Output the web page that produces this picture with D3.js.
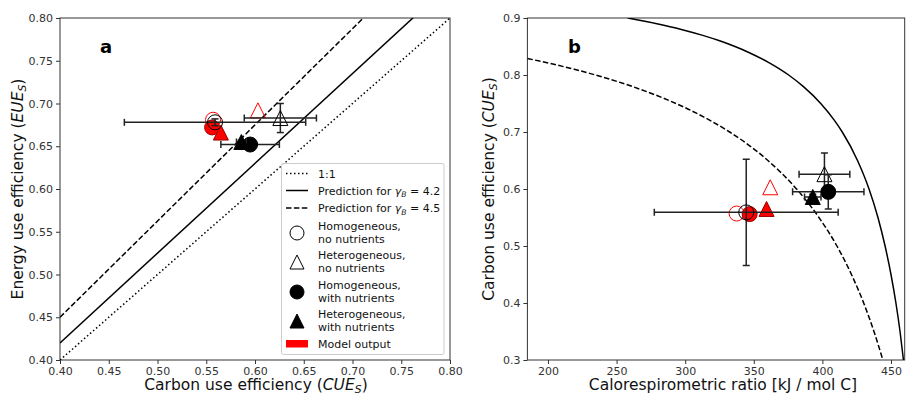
<!DOCTYPE html>
<html>
<head>
<meta charset="utf-8">
<script src="https://cdn.jsdelivr.net/npm/d3@7"></script>
<style>
  html, body { margin: 0; padding: 0; background: #fff; }
  svg { display: block; font-family: "DejaVu Sans", sans-serif; }
</style>
</head>
<body>
<svg id="chart" width="909" height="397"></svg>
<script>
// ---------------- DATA ----------------
const categories = ["Homogeneous, no nutrients", "Heterogeneous, no nutrients",
                    "Homogeneous, with nutrients", "Heterogeneous, with nutrients"];
const shapes = ["circle", "triangle", "circle", "triangle"];
const filled = [false, false, true, true];

// measured data (black)
const dataCUE    = [0.559, 0.626, 0.595, 0.586];
const dataCUEerr = [0.093, 0.037, 0.030, 0.005];
const dataEUE    = [0.678, 0.683, 0.652, 0.655];
const dataEUEerr = [0.004, 0.017, 0.003, 0.002];
const dataCR     = [344.5, 401.5, 404.3, 393.0];
const dataCRerr  = [67.0, 18.5, 26.0, 6.0];

// model output (red)
const modelCUE = [0.557, 0.603, 0.556, 0.565];
const modelEUE = [0.681, 0.692, 0.672, 0.666];
const modelCR  = [337.5, 362.0, 347.0, 359.3];

// panel a reference lines (CUE -> EUE endpoints)
const lineCUE      = [0.40, 0.80];
const oneToOneEUE  = [0.40, 0.80];
const pred42EUE    = [0.42, 0.84];
const pred45EUE    = [0.45, 0.90];

// panel b prediction curves (CUE, CR)
const curve42CUE = [0.90, 0.89, 0.88, 0.87, 0.86, 0.85, 0.84, 0.82, 0.80, 0.78, 0.75, 0.72, 0.70, 0.65, 0.60, 0.55, 0.50, 0.45, 0.40, 0.35, 0.30];
const curve42CR  = [258.1, 279.4, 297.2, 312.2, 325.1, 336.3, 346.0, 362.3, 375.4, 386.0, 398.8, 408.9, 414.5, 425.6, 434.0, 440.5, 445.7, 450.0, 453.6, 456.6, 459.1];
const curve45CUE = [0.829, 0.82, 0.81, 0.80, 0.78, 0.76, 0.74, 0.72, 0.70, 0.65, 0.60, 0.55, 0.50, 0.45, 0.40, 0.35, 0.30];
const curve45CR  = [185.0, 202.0, 219.2, 234.6, 261.3, 283.5, 302.3, 318.4, 332.4, 360.3, 381.2, 397.5, 410.6, 421.2, 430.1, 437.6, 444.1];

const ticksA = [0.40, 0.45, 0.50, 0.55, 0.60, 0.65, 0.70, 0.75, 0.80];
const ticksBx = [200, 250, 300, 350, 400, 450];
const ticksBy = [0.3, 0.4, 0.5, 0.6, 0.7, 0.8, 0.9];

// ---------------- DRAW ----------------
const svg = d3.select("#chart");
const RED = "#ff0000";
const INK = "#222";
const MS = 15;

function markerPath(shape, ms) {
  ms = ms || MS;
  if (shape === "circle") {
    const r = ms / 2;
    return `M${-r},0A${r},${r} 0 1,0 ${r},0A${r},${r} 0 1,0 ${-r},0Z`;
  }
  const h = ms / 2;
  return `M0,${-h}L${h},${h}L${-h},${h}Z`;
}

function drawPanel(opts) {
  const g = svg.append("g");
  const x = opts.x, y = opts.y;
  const [x0, x1] = x.range(), [y0, y1] = y.range();
  const clipId = "clip" + opts.id;
  svg.append("clipPath").attr("id", clipId).append("rect")
    .attr("x", x0).attr("y", y1).attr("width", x1 - x0).attr("height", y0 - y1);

  // axes
  const xAxis = g.append("g").attr("transform", `translate(0,${y0})`)
    .call(d3.axisBottom(x).tickValues(opts.xticks).tickFormat(opts.xfmt).tickSizeOuter(0).tickSize(4).tickPadding(3));
  const yAxis = g.append("g").attr("transform", `translate(${x0},0)`)
    .call(d3.axisLeft(y).tickValues(opts.yticks).tickFormat(opts.yfmt).tickSizeOuter(0).tickSize(4).tickPadding(3));
  [xAxis, yAxis].forEach(a => {
    a.selectAll("text").attr("font-size", 11).attr("fill", "#333").attr("font-family", "DejaVu Sans");
    a.selectAll("line").attr("stroke", "#333").attr("stroke-width", 1);
    a.select(".domain").remove();
  });
  // frame
  g.append("rect").attr("x", x0).attr("y", y1).attr("width", x1 - x0).attr("height", y0 - y1)
    .attr("fill", "none").attr("stroke", "#333").attr("stroke-width", 1);

  const plot = g.append("g").attr("clip-path", `url(#${clipId})`);
  opts.drawLines(plot);

  // model markers (red)
  opts.model.forEach((d, i) => {
    plot.append("path").attr("d", markerPath(shapes[i]))
      .attr("transform", `translate(${x(d[0])},${y(d[1])})`)
      .attr("fill", filled[i] ? RED : "none")
      .attr("stroke", filled[i] ? "#900" : RED).attr("stroke-width", 1);
  });
  // data markers with error bars
  opts.data.forEach((d, i) => {
    const [cx, cy, ex, ey] = d;
    const eg = plot.append("g").attr("stroke", INK).attr("stroke-width", 1.5);
    const cap = 3.5;
    if (ex > 0) {
      eg.append("line").attr("x1", x(cx - ex)).attr("x2", x(cx + ex)).attr("y1", y(cy)).attr("y2", y(cy));
      [cx - ex, cx + ex].forEach(v => eg.append("line").attr("x1", x(v)).attr("x2", x(v))
        .attr("y1", y(cy) - cap).attr("y2", y(cy) + cap));
    }
    if (ey > 0) {
      eg.append("line").attr("x1", x(cx)).attr("x2", x(cx)).attr("y1", y(cy - ey)).attr("y2", y(cy + ey));
      [cy - ey, cy + ey].forEach(v => eg.append("line").attr("y1", y(v)).attr("y2", y(v))
        .attr("x1", x(cx) - cap).attr("x2", x(cx) + cap));
    }
    plot.append("path").attr("d", markerPath(shapes[i]))
      .attr("transform", `translate(${x(cx)},${y(cy)})`)
      .attr("fill", filled[i] ? "#000" : "none")
      .attr("stroke", "#000").attr("stroke-width", 1);
  });

  // panel letter
  g.append("text").attr("x", opts.letterX).attr("y", 53).attr("font-size", 18)
    .attr("font-weight", "bold").attr("fill", "#000").text(opts.letter);
  return g;
}

function subLabel(sel, pre, ital, sub) {
  sel.append("tspan").text(pre);
  sel.append("tspan").attr("font-style", "italic").text(ital);
  sel.append("tspan").attr("font-style", "italic").attr("font-size", "70%").attr("dy", 3).text(sub);
  sel.append("tspan").attr("dy", -3).text(")");
}

// ---- Panel a ----
const xa = d3.scaleLinear().domain([0.40, 0.80]).range([60, 450]);
const ya = d3.scaleLinear().domain([0.40, 0.80]).range([360, 18]);
const fmt2 = d3.format(".2f");
drawPanel({
  id: "a", x: xa, y: ya, xticks: ticksA, yticks: ticksA, xfmt: fmt2, yfmt: fmt2,
  letter: "a", letterX: 100,
  drawLines: (p) => {
    const mk = (ev, dash) => p.append("line")
      .attr("x1", xa(lineCUE[0])).attr("y1", ya(ev[0])).attr("x2", xa(lineCUE[1])).attr("y2", ya(ev[1]))
      .attr("stroke", "#000").attr("stroke-width", 1.5).attr("stroke-dasharray", dash);
    mk(oneToOneEUE, "1.5,2.5");
    mk(pred42EUE, null);
    mk(pred45EUE, "5.5,2.4");
  },
  model: modelCUE.map((c, i) => [c, modelEUE[i]]),
  data: dataCUE.map((c, i) => [c, dataEUE[i], dataCUEerr[i], dataEUEerr[i]])
});

// ---- Panel b ----
const xb = d3.scaleLinear().domain([185, 460]).range([527.4, 904.7]);
const yb = d3.scaleLinear().domain([0.3, 0.9]).range([360, 18]);
drawPanel({
  id: "b", x: xb, y: yb, xticks: ticksBx, yticks: ticksBy, xfmt: d3.format("d"), yfmt: d3.format(".1f"),
  letter: "b", letterX: 568,
  drawLines: (p) => {
    const line = d3.line().x(d => xb(d[0])).y(d => yb(d[1])).curve(d3.curveMonotoneX);
    const c42 = curve42CR.map((v, i) => [v, curve42CUE[i]]);
    const c45 = curve45CR.map((v, i) => [v, curve45CUE[i]]);
    p.append("path").attr("d", line(c42)).attr("fill", "none").attr("stroke", "#000").attr("stroke-width", 1.5);
    p.append("path").attr("d", line(c45)).attr("fill", "none").attr("stroke", "#000").attr("stroke-width", 1.5)
      .attr("stroke-dasharray", "5.5,2.4");
  },
  model: modelCR.map((c, i) => [c, modelCUE[i]]),
  data: dataCR.map((c, i) => [c, dataCUE[i], dataCRerr[i], dataCUEerr[i]])
});

// ---- Axis titles ----
const TFS = 15.5;
subLabel(svg.append("text").attr("x", 256).attr("y", 390).attr("text-anchor", "middle")
  .attr("font-size", TFS).attr("fill", "#111"), "Carbon use efficiency (", "CUE", "S");
subLabel(svg.append("text").attr("transform", "translate(23,189) rotate(-90)").attr("text-anchor", "middle")
  .attr("font-size", TFS).attr("fill", "#111"), "Energy use efficiency (", "EUE", "S");
svg.append("text").attr("x", 723).attr("y", 390).attr("text-anchor", "middle")
  .attr("font-size", TFS).attr("fill", "#111").text("Calorespirometric ratio [kJ / mol C]");
subLabel(svg.append("text").attr("transform", "translate(494,189) rotate(-90)").attr("text-anchor", "middle")
  .attr("font-size", TFS).attr("fill", "#111"), "Carbon use efficiency (", "CUE", "S");

// ---- Legend (panel a) ----
const leg = svg.append("g");
leg.append("rect").attr("x", 281.5).attr("y", 163.5).attr("width", 162.5).attr("height", 191)
  .attr("rx", 2).attr("fill", "#fff").attr("fill-opacity", 0.9).attr("stroke", "#ccc").attr("stroke-width", 1);
const hx0 = 286, hx1 = 308, hxc = 297, tx = 318;
const legLines = [
  {y: 173.5, dash: "1.5,2.5", label: null, text: "1:1"},
  {y: 190.5, dash: null, gamma: "4.2"},
  {y: 208, dash: "5.5,2.4", gamma: "4.5"}
];
legLines.forEach(d => {
  leg.append("line").attr("x1", hx0).attr("x2", hx1).attr("y1", d.y).attr("y2", d.y)
    .attr("stroke", "#000").attr("stroke-width", 1.5).attr("stroke-dasharray", d.dash);
  const t = leg.append("text").attr("x", tx).attr("y", d.y + 4).attr("font-size", 11).attr("fill", "#111");
  if (d.text) t.text(d.text);
  else {
    t.append("tspan").text("Prediction for ");
    t.append("tspan").attr("font-style", "italic").text("γ");
    t.append("tspan").attr("font-style", "italic").attr("font-size", "70%").attr("dy", 2.5).text("B");
    t.append("tspan").attr("dy", -2.5).text(" = " + d.gamma);
  }
});
const legMarkers = [
  {y: 233, lines: ["Homogeneous,", "no nutrients"]},
  {y: 262, lines: ["Heterogeneous,", "no nutrients"]},
  {y: 292, lines: ["Homogeneous,", "with nutrients"]},
  {y: 321, lines: ["Heterogeneous,", "with nutrients"]}
];
legMarkers.forEach((d, i) => {
  leg.append("path").attr("d", markerPath(shapes[i], 14)).attr("transform", `translate(${hxc},${d.y})`)
    .attr("fill", filled[i] ? "#000" : "none").attr("stroke", "#000").attr("stroke-width", 1);
  d.lines.forEach((l, j) => leg.append("text").attr("x", tx).attr("y", d.y - 3.5 + j * 13.5)
    .attr("font-size", 11).attr("fill", "#111").text(l));
});
leg.append("rect").attr("x", 286).attr("y", 340).attr("width", 22).attr("height", 7.5).attr("fill", RED);
leg.append("text").attr("x", tx).attr("y", 347.5).attr("font-size", 11).attr("fill", "#111").text("Model output");
</script>
</body>
</html>
